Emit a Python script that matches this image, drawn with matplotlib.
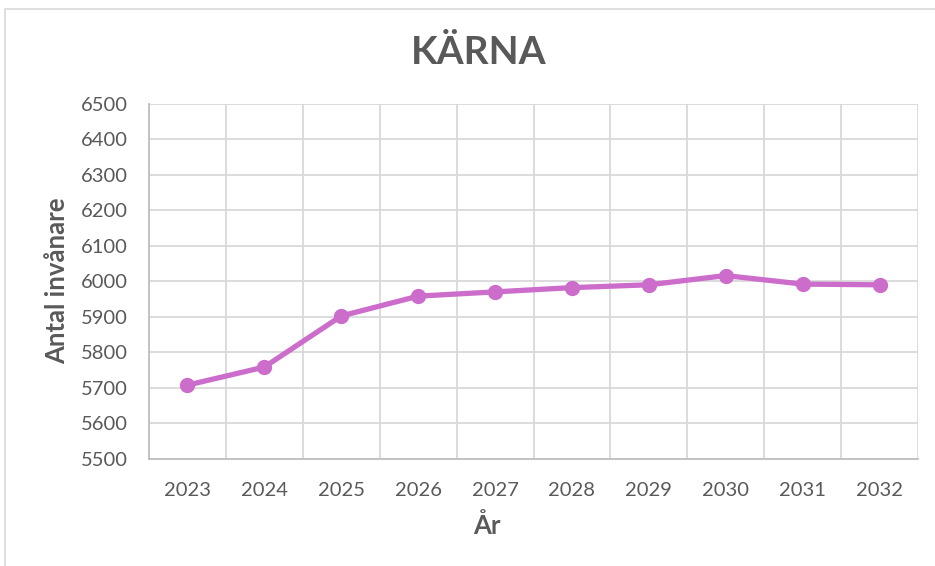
import numpy as np
import matplotlib.pyplot as plt
from matplotlib.patches import Rectangle

years = ["2023", "2024", "2025", "2026", "2027", "2028", "2029", "2030", "2031", "2032"]
invanare = [5707, 5758, 5902, 5958, 5970, 5982, 5990, 6016, 5992, 5990]
y_ticks = list(range(5500, 6501, 100))

grey_text = "#595959"
grid_col = "#d9d9d9"
axis_col = "#bfbfbf"
line_col = "#cc6dcc"

plt.rcParams["font.family"] = ["Lato", "DejaVu Sans"]

fig = plt.figure(figsize=(9.35, 5.66), dpi=100)
# thin chart border like a spreadsheet chart frame
fig.patches.append(Rectangle((5 / 935, -0.1), 1.1, 1 - 9 / 566 + 0.1,
                             transform=fig.transFigure, fill=False,
                             edgecolor="#d9d9d9", linewidth=1.2))

ax = fig.add_axes([149 / 935, (566 - 458.5) / 566, 769 / 935, 354.5 / 566])

x = np.arange(len(years))
ax.plot(x, invanare, color=line_col, linewidth=3.8, marker="o",
        markersize=10, solid_capstyle="round", zorder=3)

ax.set_xlim(-0.5, len(years) - 0.5)
ax.set_ylim(y_ticks[0], y_ticks[-1])
ax.set_yticks(y_ticks)
ax.set_xticks(x)
ax.set_xticklabels(years)
ax.set_xticks(np.arange(-0.5, len(years), 1), minor=True)

ax.grid(True, axis="y", color=grid_col, linewidth=1.3)
ax.grid(True, axis="x", which="minor", color=grid_col, linewidth=1.3)
ax.set_axisbelow(True)

for side in ["top", "right"]:
    ax.spines[side].set_visible(False)
for side in ["left", "bottom"]:
    ax.spines[side].set_color(axis_col)
    ax.spines[side].set_linewidth(1.3)

ax.tick_params(axis="both", which="both", length=0, labelsize=14.5,
               labelcolor=grey_text)
ax.tick_params(axis="y", pad=15)
ax.tick_params(axis="x", pad=17)

ax.set_ylabel("Antal invånare", fontsize=18.5, fontweight="bold",
              color=grey_text, labelpad=9)
ax.set_xlabel("År", fontsize=18.5, fontweight="bold", color=grey_text,
              labelpad=9)
# axis title sits centred on the chart, a bit left of the plot centre
ax.xaxis.set_label_coords(0.44, -0.155)

fig.text(479 / 935, 1 - 52 / 566, "KÄRNA", ha="center", va="center",
         fontsize=28, fontweight="bold", color=grey_text)

fig.savefig("out.png", dpi=100)
